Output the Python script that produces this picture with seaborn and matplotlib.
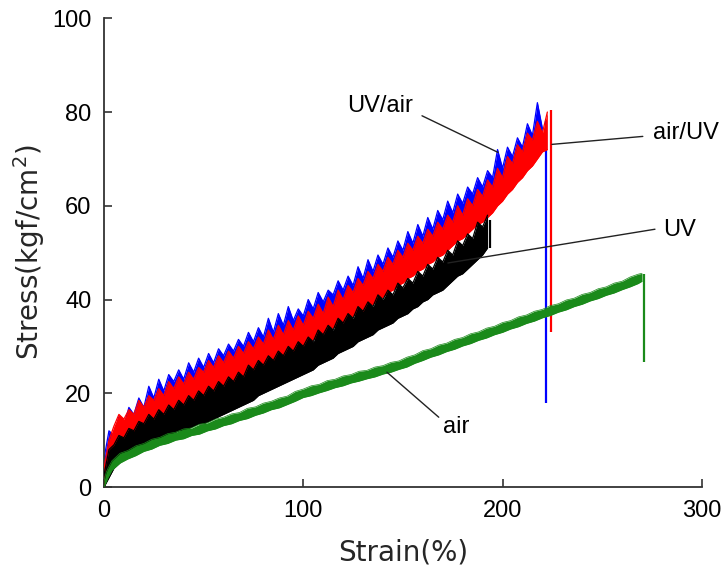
import matplotlib
matplotlib.use("Agg")
import matplotlib.pyplot as plt
import pandas as pd
import seaborn as sns

# Tensile test records: strain (%) with the lower and upper bound of the
# oscillating stress signal (kgf/cm^2); the last entry is the break drop.
uv_air_strain = [0, 2.5, 5, 7.5, 10, 12.5, 15, 17.5, 20, 22.5,
                 25, 27.5, 30, 32.5, 35, 37.5, 40, 42.5, 45, 47.5,
                 50, 52.5, 55, 57.5, 60, 62.5, 65, 67.5, 70, 72.5,
                 75, 77.5, 80, 82.5, 85, 87.5, 90, 92.5, 95, 97.5,
                 100, 102.5, 105, 107.5, 110, 112.5, 115, 117.5, 120, 122.5,
                 125, 127.5, 130, 132.5, 135, 137.5, 140, 142.5, 145, 147.5,
                 150, 152.5, 155, 157.5, 160, 162.5, 165, 167.5, 170, 172.5,
                 175, 177.5, 180, 182.5, 185, 187.5, 190, 192.5, 195, 197.5,
                 200, 202.5, 205, 207.5, 210, 212.5, 215, 217.5, 220,
                 222]
uv_air_upper = [6, 12, 11, 15, 13, 17, 15.5, 19, 17, 21.5,
                19, 23, 20.5, 24, 22.5, 25, 23, 26.5, 24.5, 27.5,
                25.5, 28.5, 26.5, 29.5, 28, 30.5, 29, 31.5, 30, 33,
                31, 34, 32, 36, 33, 37, 34.5, 38.5, 35.5, 38,
                36.5, 40, 38, 41.5, 39.5, 42, 41, 44, 42, 45,
                43, 47, 44.5, 48.5, 46, 49.5, 47.5, 51, 49, 52.5,
                50.5, 54.5, 52, 56, 53.5, 57.5, 55, 59, 57, 61,
                58.5, 62.5, 60.5, 64, 62.5, 66, 64, 67.5, 66, 72,
                68, 72.5, 70.5, 74.5, 72.5, 77.5, 75, 82, 76.5,
                78]
uv_air_lower = [0, 4, 7, 8, 8.5, 9.5, 10, 11, 11.5, 12.5,
                13, 13.5, 14, 14.5, 15.5, 16, 16.5, 17.5, 18, 18.5,
                19.5, 20, 21, 21.5, 22.5, 23, 24, 24.5, 25, 25.5,
                26.5, 27, 27.5, 28, 29, 29.5, 30, 30.5, 31, 31.5,
                32, 32.5, 33.5, 34, 34.5, 35, 36, 36.5, 37, 37.5,
                38.5, 39, 39.5, 40.5, 41, 42, 42.5, 43.5, 44, 45,
                45.5, 46.5, 47, 48, 48.5, 49.5, 50.5, 51, 52, 53,
                54, 54.5, 55.5, 56.5, 57.5, 58, 59, 60, 61.5, 62.5,
                63.5, 65, 66, 67.5, 68.5, 70, 71.5, 72, 73,
                18]

air_uv_strain = [0, 2.5, 5, 7.5, 10, 12.5, 15, 17.5, 20, 22.5,
                 25, 27.5, 30, 32.5, 35, 37.5, 40, 42.5, 45, 47.5,
                 50, 52.5, 55, 57.5, 60, 62.5, 65, 67.5, 70, 72.5,
                 75, 77.5, 80, 82.5, 85, 87.5, 90, 92.5, 95, 97.5,
                 100, 102.5, 105, 107.5, 110, 112.5, 115, 117.5, 120, 122.5,
                 125, 127.5, 130, 132.5, 135, 137.5, 140, 142.5, 145, 147.5,
                 150, 152.5, 155, 157.5, 160, 162.5, 165, 167.5, 170, 172.5,
                 175, 177.5, 180, 182.5, 185, 187.5, 190, 192.5, 195, 197.5,
                 200, 202.5, 205, 207.5, 210, 212.5, 215, 217.5, 220,
                 222.5, 224.5]
air_uv_upper = [4, 10, 13, 15.5, 14.5, 16.5, 15.5, 18.5, 17, 19.5,
                18.5, 21, 19.5, 22.5, 21, 23.5, 22, 24.5, 23, 25.5,
                24.5, 27, 25.5, 28, 26.5, 29, 27.5, 30, 28.5, 31,
                29.5, 32, 30.5, 33.5, 31.5, 34.5, 32.5, 35.5, 33.5, 36.5,
                34.5, 37.5, 36, 39, 37, 40.5, 38.5, 42, 40, 43,
                41.5, 44.5, 43, 46, 44.5, 47.5, 46, 49, 47.5, 50.5,
                49, 52, 50.5, 53.5, 52, 55, 53.5, 56.5, 55, 58,
                56.5, 60, 58, 61.5, 60, 63.5, 62, 65.5, 64, 68,
                66, 70.5, 69, 73, 71.5, 75.5, 74, 78, 75.5,
                80, 80.5]
air_uv_lower = [0, 3, 6, 8.5, 9.5, 10.5, 11, 12, 12.5, 13,
                14, 14.5, 15, 15.5, 16.5, 17, 17.5, 18, 18.5, 19,
                19.5, 20, 20.5, 21, 21.5, 22, 22.5, 23, 23.5, 24,
                24.5, 25, 25.5, 26, 26.5, 27, 27.5, 28, 28.5, 29.5,
                30, 30.5, 31.5, 32, 32.5, 33.5, 34, 34.5, 35, 36,
                36.5, 37, 37.5, 38.5, 39, 40, 40.5, 41.5, 42, 43,
                43.5, 44.5, 45, 46, 46.5, 47.5, 48, 49, 49.5, 50.5,
                51.5, 52.5, 53, 54, 55, 56, 56.5, 57.5, 58.5, 60,
                61, 62.5, 63.5, 65, 66, 67.5, 68.5, 70, 71.5,
                72, 33]

uv_strain = [0, 2.5, 5, 7.5, 10, 12.5, 15, 17.5, 20, 22.5,
             25, 27.5, 30, 32.5, 35, 37.5, 40, 42.5, 45, 47.5,
             50, 52.5, 55, 57.5, 60, 62.5, 65, 67.5, 70, 72.5,
             75, 77.5, 80, 82.5, 85, 87.5, 90, 92.5, 95, 97.5,
             100, 102.5, 105, 107.5, 110, 112.5, 115, 117.5, 120, 122.5,
             125, 127.5, 130, 132.5, 135, 137.5, 140, 142.5, 145, 147.5,
             150, 152.5, 155, 157.5, 160, 162.5, 165, 167.5, 170, 172.5,
             175, 177.5, 180, 182.5, 185, 187.5, 190,
             192.5, 193.5]
uv_upper = [2.5, 8, 9, 11, 10.5, 12.5, 12, 14, 13.5, 15.5,
            14.5, 16.5, 15.5, 17.5, 16.5, 18.5, 17.5, 19.5, 18.5, 20.5,
            19.5, 21.5, 20.5, 22.5, 21.5, 23.5, 22.5, 24.5, 23.5, 26,
            25, 27, 26, 28, 27, 29, 28, 30, 29, 31,
            30, 32, 31, 33.5, 32.5, 34.5, 33.5, 36, 35, 37,
            36, 38.5, 37.5, 39.5, 38.5, 41, 40, 42, 41, 43.5,
            42.5, 44.5, 43.5, 46, 45, 47.5, 46.5, 49, 48, 50.5,
            49.5, 52.5, 51.5, 54, 53, 56.5, 55.5,
            58, 57]
uv_lower = [0, 2, 4, 5, 6, 6.5, 7, 7.5, 8.5, 9,
            9.5, 10, 10.5, 11, 11.5, 12, 12, 12.5, 13, 13.5,
            13.5, 14, 14.5, 15, 15.5, 16, 16.5, 17, 17.5, 18,
            18.5, 19.5, 20, 20.5, 21, 21.5, 22, 22.5, 23, 23.5,
            24, 24.5, 25, 26, 26.5, 27, 27.5, 28.5, 29, 29.5,
            30, 31, 31.5, 32, 32.5, 33.5, 34, 34.5, 35, 36,
            36.5, 37, 38, 38.5, 39.5, 40, 41, 41.5, 42, 43,
            44, 45, 45.5, 46.5, 47.5, 48.5, 49.5,
            51, 51]

air_strain = [0, 1, 2,
              4, 8, 12, 16, 20, 24, 28, 32, 36, 40,
              44, 48, 52, 56, 60, 64, 68, 72, 76, 80,
              84, 88, 92, 96, 100, 104, 108, 112, 116, 120,
              124, 128, 132, 136, 140, 144, 148, 152, 156, 160,
              164, 168, 172, 176, 180, 184, 188, 192, 196, 200,
              204, 208, 212, 216, 220, 224, 228, 232, 236, 240,
              244, 248, 252, 256, 260, 264, 268,
              270, 271]
air_upper = [1.2, 3, 4,
             5.6, 7.2, 7.8, 8.8, 9.3, 10.2, 10.6, 11.4, 11.7, 12.4,
             12.6, 13.4, 13.7, 14.5, 14.9, 15.6, 15.9, 16.8, 17.1, 17.9,
             18.3, 19.0, 19.4, 20.4, 20.9, 21.6, 21.9, 22.7, 23.0, 23.7,
             24.0, 24.7, 24.9, 25.6, 25.9, 26.6, 26.9, 27.7, 28.2, 29.1,
             29.5, 30.3, 30.7, 31.5, 31.9, 32.7, 33.1, 33.9, 34.3, 35.1,
             35.5, 36.3, 36.7, 37.5, 37.9, 38.7, 39.1, 39.9, 40.3, 41.1,
             41.5, 42.3, 42.7, 43.5, 43.9, 44.8, 45.4,
             45.6, 45.5]
air_lower = [0, 1, 2,
             3.6, 5.1, 6.0, 6.7, 7.6, 8.1, 8.9, 9.3, 10.0, 10.3,
             11.0, 11.3, 12.0, 12.4, 13.1, 13.5, 14.2, 14.6, 15.3, 15.8,
             16.5, 16.9, 17.6, 18.3, 19.1, 19.5, 20.1, 20.6, 21.2, 21.6,
             22.2, 22.6, 23.1, 23.5, 24.1, 24.5, 25.1, 25.6, 26.4, 27.0,
             27.7, 28.2, 28.9, 29.4, 30.1, 30.6, 31.3, 31.8, 32.5, 33.0,
             33.7, 34.2, 34.9, 35.4, 36.1, 36.6, 37.3, 37.8, 38.5, 39.0,
             39.7, 40.2, 40.9, 41.4, 42.1, 42.7, 43.4,
             43.9, 26.7]

# name, strain, lower, upper, colour, edge width
series = [
    ("UV/air", uv_air_strain, uv_air_lower, uv_air_upper, "#0000ff", 0.9),
    ("air/UV", air_uv_strain, air_uv_lower, air_uv_upper, "#ff0000", 0.9),
    ("UV", uv_strain, uv_lower, uv_upper, "#000000", 0.9),
    ("air", air_strain, air_lower, air_upper, "#1a8a1a", 0.5),
]

sns.set_style("ticks")
plt.rcParams["font.family"] = ["Liberation Sans", "DejaVu Sans"]

fig = plt.figure(figsize=(7.22, 5.71), dpi=100)
ax = fig.add_axes([0.144, 0.147, 0.828, 0.821])

for i, (name, xs, lo, hi, color, edge_lw) in enumerate(series):
    df = pd.DataFrame({"strain": xs, "lower": lo, "upper": hi})
    body = df.iloc[:-1]
    brk = df.iloc[-1]
    z = 2 + i
    # oscillation band up to failure
    ax.fill_between(body["strain"], body["lower"], body["upper"],
                    color=color, linewidth=0, zorder=z)
    for edge in ("upper", "lower"):
        sns.lineplot(data=body, x="strain", y=edge, sort=False, estimator=None,
                     color=color, linewidth=edge_lw, ax=ax, zorder=z)
    # sudden stress drop at break
    ax.vlines(brk["strain"], brk["lower"], brk["upper"], color=color,
              linewidth=1.6, zorder=z)

# Curve labels with leader lines
label_color = "#222222"
leaders = [
    ("UV/air", (138.5, 81.2), "center", [(159.6, 197.7), (79.2, 71.4)]),
    ("air/UV", (275.5, 75.5), "left", [(224.8, 270.4), (73.1, 74.8)]),
    ("UV", (280.5, 54.8), "left", [(172.6, 276.5), (47.8, 55.0)]),
    ("air", (176.6, 12.8), "center", [(142.0, 168.0), (24.5, 14.9)]),
]
for text, (tx, ty), ha, (lx, ly) in leaders:
    ax.plot(lx, ly, color=label_color, linewidth=1.0, zorder=10)
    ax.text(tx, ty, text, ha=ha, va="center", fontsize=17, color="black",
            clip_on=False, zorder=11)

ax.set_xlim(0, 300)
ax.set_ylim(0, 100)
ax.set_xticks([0, 100, 200, 300])
ax.set_yticks([0, 20, 40, 60, 80, 100])
ax.tick_params(direction="in", length=6, width=1.2, labelsize=17, pad=9,
               colors="#333333", labelcolor="black")
sns.despine(ax=ax)
for side in ("left", "bottom"):
    ax.spines[side].set_linewidth(1.3)
    ax.spines[side].set_color("#333333")

ax.set_xlabel("Strain(%)", fontsize=20, family="DejaVu Sans", labelpad=12)
ax.set_ylabel("Stress(kgf/cm$^2$)", fontsize=20, family="DejaVu Sans", labelpad=4)

fig.savefig("out.png", dpi=100)
